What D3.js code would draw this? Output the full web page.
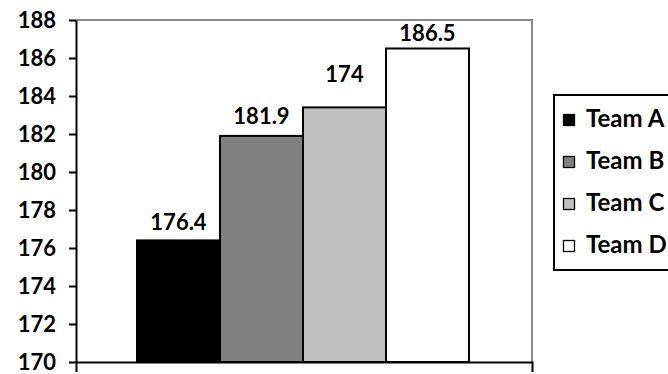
<!DOCTYPE html>
<html>
<head>
<meta charset="utf-8">
<script src="https://cdn.jsdelivr.net/npm/d3@7"></script>
<style>
  body { margin: 0; background: #fff; }
  text { font-family: Lato, "Noto Sans", sans-serif; font-weight: 700; fill: #000; }
</style>
</head>
<body>
<div id="chart_div"></div>
<script>
  // data
  var teams = ["Team A", "Team B", "Team C", "Team D"];
  var heights = [176.4, 181.9, 183.4, 186.5];
  var valueLabels = ["176.4", "181.9", "174", "186.5"];
  var fills = ["#000000", "#808080", "#c0c0c0", "#ffffff"];
  var yTicks = [170, 172, 174, 176, 178, 180, 182, 184, 186, 188];

  var all_width = 668, all_height = 374;
  var plot = {left: 76, right: 532, top: 20, bottom: 362};

  var svg = d3.select("#chart_div")
    .append("svg")
      .attr("width", all_width)
      .attr("height", all_height);

  var y = d3.scaleLinear()
    .domain([170, 188])
    .range([plot.bottom, plot.top]);

  // bars sit in the middle of the plot area
  var x = d3.scaleBand()
    .domain(teams)
    .range([137, 469])
    .padding(0);

  // frame: grey top + right border
  svg.append("path")
    .attr("d", "M" + plot.left + "," + plot.top + "H" + plot.right + "V" + plot.bottom)
    .attr("fill", "none")
    .attr("stroke", "#8a8a8a")
    .attr("stroke-width", 2);

  // bars
  svg.selectAll("bars")
    .data(teams)
    .enter()
    .append("rect")
      .attr("x", function(d) { return x(d); })
      .attr("width", x.bandwidth())
      .attr("y", function(d, i) { return y(heights[i]); })
      .attr("height", function(d, i) { return y(170) - y(heights[i]); })
      .attr("fill", function(d, i) { return fills[i]; })
      .attr("stroke", "#000")
      .attr("stroke-width", 2);

  // value labels (the 3rd one floats higher in the original)
  var labelLift = [10, 12, 25, 8];
  svg.selectAll("vlabels")
    .data(teams)
    .enter()
    .append("text")
      .attr("x", function(d) { return x(d) + x.bandwidth() / 2; })
      .attr("y", function(d, i) { return y(heights[i]) - labelLift[i]; })
      .attr("text-anchor", "middle")
      .style("font-size", "22px")
      .text(function(d, i) { return valueLabels[i]; });

  // y axis
  var yAxis = svg.append("g")
    .attr("transform", "translate(" + plot.left + ",0)")
    .call(d3.axisLeft(y).tickValues(yTicks).tickSize(7).tickSizeOuter(0).tickPadding(13));
  yAxis.selectAll("line").attr("stroke", "#000").attr("stroke-width", 2);
  yAxis.select(".domain").attr("stroke", "#000").attr("stroke-width", 2);
  yAxis.selectAll("text")
    .style("font-size", "22px")
    .style("font-family", "Lato, 'Noto Sans', sans-serif")
    .style("font-weight", 700)
    .attr("fill", "#000");

  // x axis: only the two outer ticks
  var xOuter = d3.scaleLinear().domain([0, 1]).range([plot.left, plot.right]);
  var xAxis = svg.append("g")
    .attr("transform", "translate(0," + plot.bottom + ")")
    .call(d3.axisBottom(xOuter).tickValues([]).tickSizeOuter(10));
  xAxis.select(".domain").attr("stroke", "#000").attr("stroke-width", 2);

  // legend
  var legend = svg.append("g").attr("transform", "translate(554,95)");
  legend.append("rect")
    .attr("width", 130)
    .attr("height", 175)
    .attr("fill", "#fff")
    .attr("stroke", "#000")
    .attr("stroke-width", 2);
  var item = legend.selectAll("items")
    .data(teams)
    .enter()
    .append("g")
      .attr("transform", function(d, i) { return "translate(0," + (32 + i * 42) + ")"; });
  item.append("rect")
    .attr("x", 9.5)
    .attr("y", -12.5)
    .attr("width", 11)
    .attr("height", 11)
    .attr("fill", function(d, i) { return fills[i]; })
    .attr("stroke", "#000")
    .attr("stroke-width", 1.3);
  item.append("text")
    .attr("x", 32)
    .attr("y", 0)
    .style("font-size", "24px")
    .text(function(d) { return d; });
</script>
</body>
</html>
